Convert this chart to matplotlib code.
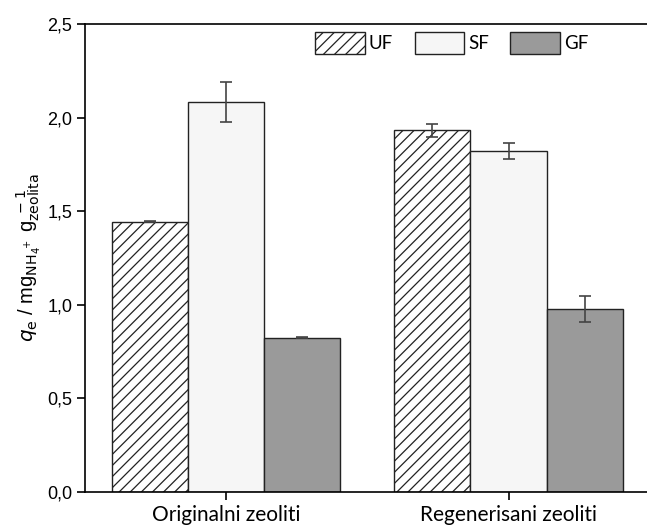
import numpy as np
import matplotlib
matplotlib.use("Agg")
import matplotlib.pyplot as plt
from matplotlib.ticker import FuncFormatter

# podaci
grupe = ["Originalni zeoliti", "Regenerisani zeoliti"]
serije = ["UF", "SF", "GF"]
vrijednosti = {
    "UF": [1.444, 1.932],
    "SF": [2.085, 1.820],
    "GF": [0.824, 0.978],
}
greske = {
    "UF": [0.003, 0.035],
    "SF": [0.107, 0.042],
    "GF": [0.003, 0.069],
}

boje = {"UF": "white", "SF": "#f6f6f6", "GF": "#9a9a9a"}
srafure = {"UF": "///", "SF": "", "GF": ""}

plt.rcParams["hatch.linewidth"] = 0.9

fig = plt.figure(figsize=(6.47, 5.27), dpi=100)
ax = fig.add_axes([0.131, 0.0664, 0.869, 0.888])

x = np.arange(len(grupe))
sirina = 0.27
for i, s in enumerate(serije):
    ax.bar(x + (i - 1) * sirina, vrijednosti[s], sirina,
           color=boje[s], edgecolor="#222222", linewidth=1.0,
           hatch=srafure[s], label=s,
           yerr=greske[s], capsize=4,
           error_kw=dict(ecolor="#444444", elinewidth=1.2, capthick=1.2))

ax.set_xlim(-0.5, 1.49)
ax.set_ylim(0, 2.5)
ax.set_yticks(np.arange(0, 2.51, 0.5))
ax.yaxis.set_major_formatter(FuncFormatter(lambda v, p: f"{v:.1f}".replace(".", ",")))
ax.set_xticks(x)
ax.set_xticklabels(grupe, fontsize=15, family="Lato")
ax.tick_params(axis="y", labelsize=13, length=6, width=1.2, direction="out", pad=3)
ax.tick_params(axis="x", length=6, width=1.2, direction="out", pad=3)
for t in ax.get_yticklabels():
    t.set_family("Liberation Sans")

ax.spines["right"].set_visible(False)
for sp in ["left", "top", "bottom"]:
    ax.spines[sp].set_linewidth(1.2)

ax.set_ylabel(r"$q_{\rm e}$ / mg$_{\rm NH_4^{\ +}}$ g$_{\rm zeolita}^{\ -1}$",
              fontsize=14.5, family="Liberation Sans", labelpad=2)

ax.legend(loc="upper left", bbox_to_anchor=(0.41, 0.982), ncol=3, frameon=False,
          borderpad=0, borderaxespad=0,
          prop={"family": "Lato", "size": 13.5}, handlelength=2.65, handleheight=1.35,
          handletextpad=0.2, columnspacing=1.15)

plt.savefig("out.png", dpi=100)
plt.close()
